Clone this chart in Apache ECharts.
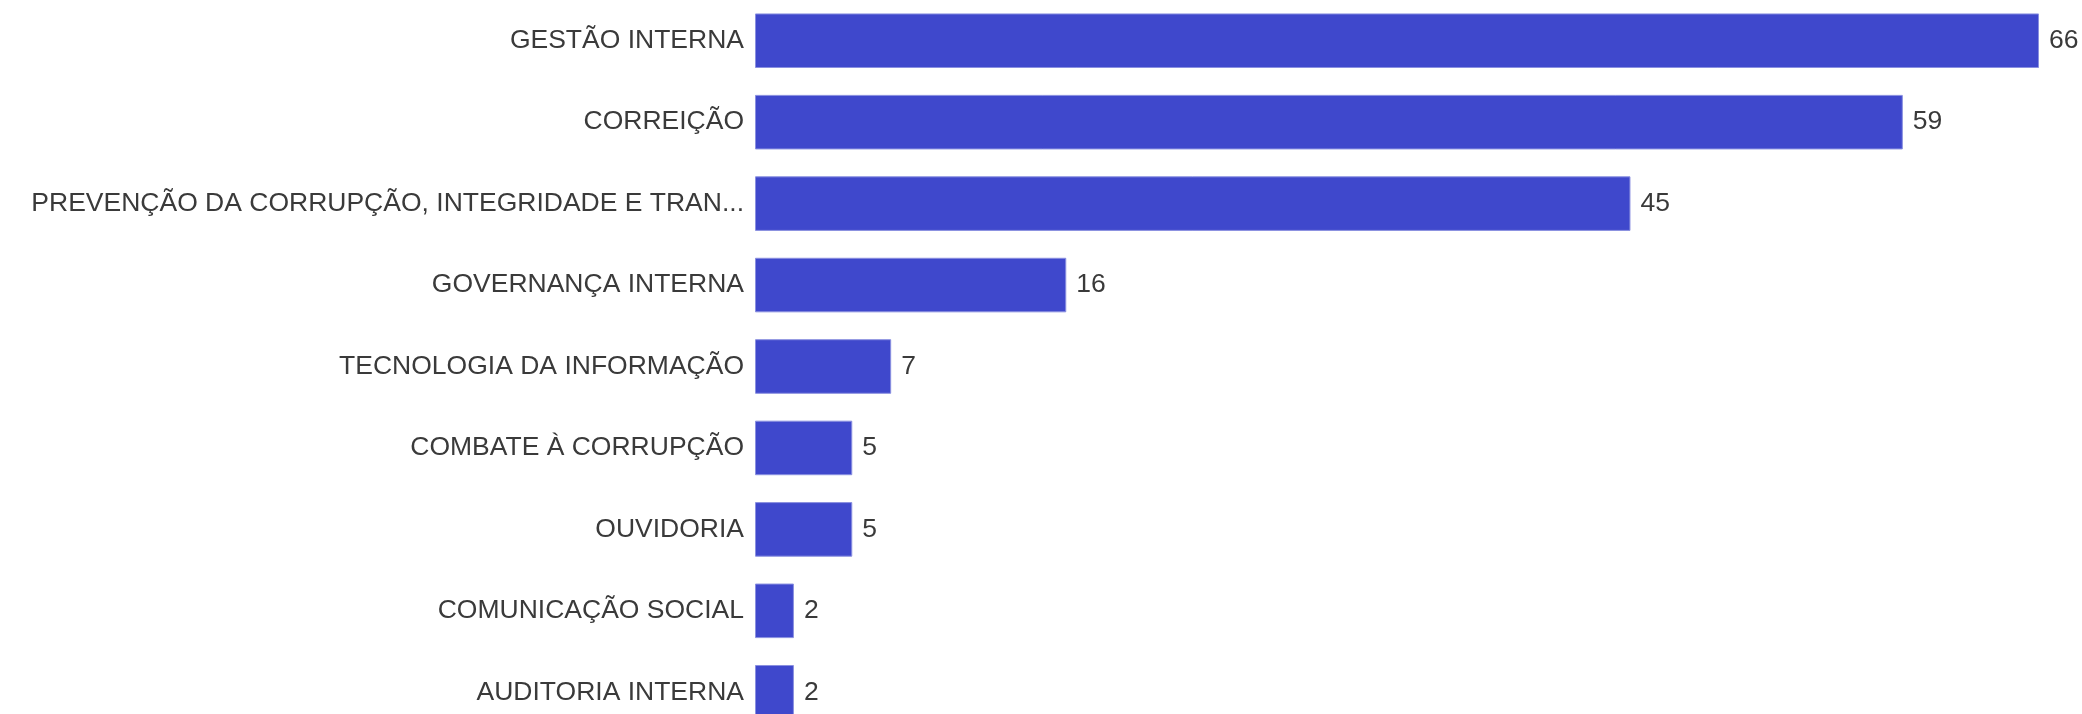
<!DOCTYPE html>
<html>
<head>
<meta charset="utf-8">
<script src="https://cdn.jsdelivr.net/npm/echarts@6/dist/echarts.min.js"></script>
<style>html,body{margin:0;padding:0;background:#fff;}#c{width:2082px;height:714px;}</style>
</head>
<body>
<div id="c"></div>
<script>
const categories = [
  "GESTÃO INTERNA",
  "CORREIÇÃO",
  "PREVENÇÃO DA CORRUPÇÃO, INTEGRIDADE E TRANSPARÊNCIA",
  "GOVERNANÇA INTERNA",
  "TECNOLOGIA DA INFORMAÇÃO",
  "COMBATE À CORRUPÇÃO",
  "OUVIDORIA",
  "COMUNICAÇÃO SOCIAL",
  "AUDITORIA INTERNA"
];
const values = [66, 59, 45, 16, 7, 5, 5, 2, 2];

const FONT = '"Liberation Sans", Arial, sans-serif';
const chart = echarts.init(document.getElementById('c'));
chart.setOption({
  animation: false,
  grid: { left: 755, right: 43, top: 0, height: 733, containLabel: false, outerBoundsMode: 'none' },
  xAxis: { type: 'value', min: 0, max: 66, show: false },
  yAxis: {
    type: 'category',
    data: categories,
    inverse: true,
    axisLine: { show: false },
    axisTick: { show: false },
    axisLabel: {
      margin: 11,
      fontFamily: FONT,
      fontSize: 26.5,
      color: '#3a3a3a',
      formatter: function (v) { return v.length > 42 ? v.slice(0, 42) + '...' : v; }
    }
  },
  series: [{
    type: 'bar',
    data: values,
    barCategoryGap: '33%',
    itemStyle: { color: '#3F48CC', borderColor: '#8A90E0', borderWidth: 1 },
    label: {
      show: true,
      position: 'right',
      distance: 10,
      fontFamily: FONT,
      fontSize: 26.5,
      color: '#3a3a3a'
    }
  }]
});
</script>
</body>
</html>
